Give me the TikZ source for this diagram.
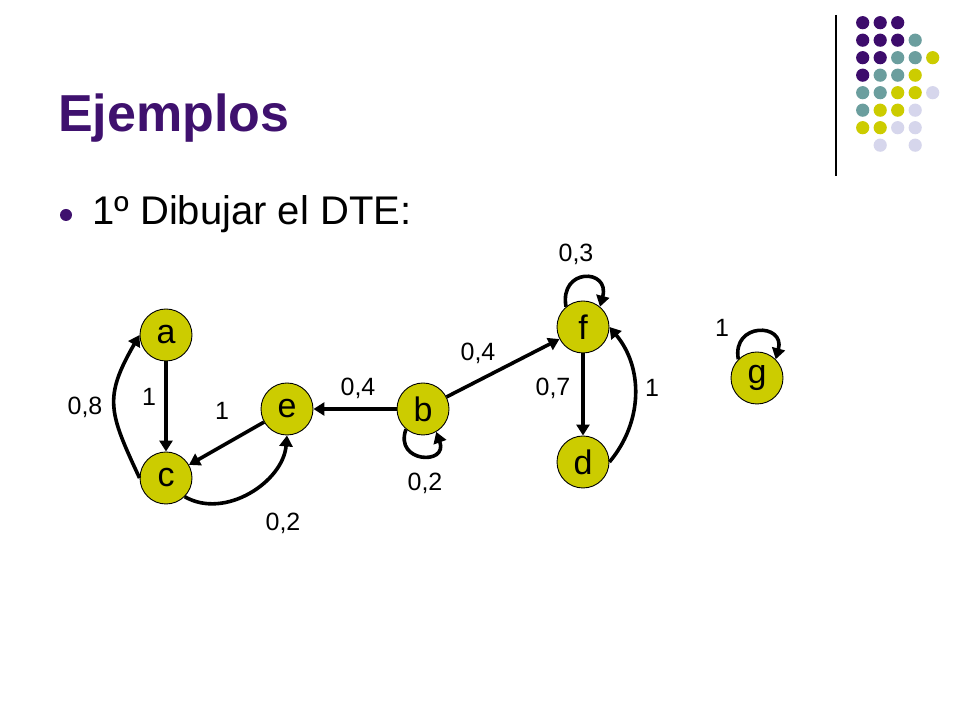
\documentclass[tikz,border=0pt]{standalone}
\usepackage{fontspec}
\setmainfont{Liberation Sans}
\usetikzlibrary{arrows.meta}
\definecolor{titlepurple}{HTML}{3F116E}
\definecolor{dotpurple}{HTML}{3D0C6C}
\definecolor{dotteal}{HTML}{6B9E9E}
\definecolor{dotyellow}{HTML}{CCCC00}
\definecolor{dotlilac}{HTML}{D6D6EC}
\definecolor{statefill}{HTML}{CCCC00}
\tikzset{
  state/.style={circle, draw=black, line width=0.9bp, fill=statefill, minimum size=52bp, inner sep=0pt, font=\fontsize{34bp}{34bp}\selectfont},
  trans/.style={line width=3.6bp, -{Triangle[length=11bp,width=13bp]}},
  prob/.style={inner sep=0pt, font=\fontsize{25bp}{25bp}\selectfont}
}
\begin{document}
\begin{tikzpicture}[x=1bp,y=1bp]
            \newcommand{\dotgap}{17.5}
            \newcommand{\dotrad}{6.6}
            \fill[white] (0,0) rectangle (960,720);
            \useasboundingbox (0,0) rectangle (960,720);
            % corner decoration
            \draw[line width=1.2bp] (836,705) -- (836,544);
            \foreach \col/\row/\clr in {0/0/dotpurple,1/0/dotpurple,2/0/dotpurple,
              0/1/dotpurple,1/1/dotpurple,2/1/dotpurple,3/1/dotteal,
              0/2/dotpurple,1/2/dotpurple,2/2/dotteal,3/2/dotteal,4/2/dotyellow,
              0/3/dotpurple,1/3/dotteal,2/3/dotteal,3/3/dotyellow,
              0/4/dotteal,1/4/dotteal,2/4/dotyellow,3/4/dotyellow,4/4/dotlilac,
              0/5/dotteal,1/5/dotyellow,2/5/dotyellow,3/5/dotlilac,
              0/6/dotyellow,1/6/dotyellow,2/6/dotlilac,3/6/dotlilac,
              1/7/dotlilac,3/7/dotlilac}
              \fill[\clr] (862.7+\col*\dotgap,697.3-\row*\dotgap) circle (\dotrad);
            % title and bullet
            \node[anchor=base west, inner sep=0pt, text=titlepurple, font=\fontsize{52bp}{52bp}\selectfont\bfseries] (title) at (58,588) {Ejemplos};
            \fill[titlepurple] (66,505) circle (6);
            \node[anchor=base west, inner sep=0pt, font=\fontsize{40bp}{40bp}\selectfont] (step1) at (92,495) {1º Dibujar el DTE:};
            % states
            \node[state] (a) at (166,385) {a};
            \node[state] (c) at (166,242) {c};
            \node[state] (e) at (287,311) {e};
            \node[state] (b) at (423,311) {b};
            \node[state] (f) at (583,393) {f};
            \node[state] (d) at (583,258) {d};
            \node[state] (g) at (757,342) {g};
            % transitions
            \draw[trans] (a) -- (c);
            \draw[trans] (c.west) to[out=115,in=240,looseness=1.3] (a.west);
            \draw[trans] (e) -- (c);
            \draw[trans] (c.-45) to[out=-30,in=-95] (e.south);
            \draw[trans] (b) -- (e);
            \draw[trans] (b.-130) to[out=-110,in=-70,distance=36] (b.-60);
            \draw[trans] (b) -- (f);
            \draw[trans] (f.130) to[out=100,in=75,distance=40] (f.50);
            \draw[trans] (f) -- (d);
            \draw[trans] (d.east) to[out=50,in=-50] (f.east);
            \draw[trans] (g.135) to[out=100,in=75,distance=38] (g.45);
            % probabilities
            \node[prob] (pac) at (149,323) {1};
            \node[prob] (pca) at (85,313) {0,8};
            \node[prob] (pec) at (222,309) {1};
            \node[prob] (pce) at (283,197) {0,2};
            \node[prob] (pbe) at (358,332) {0,4};
            \node[prob] (pbb) at (425,237) {0,2};
            \node[prob] (pbf) at (478,367) {0,4};
            \node[prob] (pff) at (576,466) {0,3};
            \node[prob] (pfd) at (553,332) {0,7};
            \node[prob] (pdf) at (652,332) {1};
            \node[prob] (pgg) at (722,392) {1};
\end{tikzpicture}
\end{document}
